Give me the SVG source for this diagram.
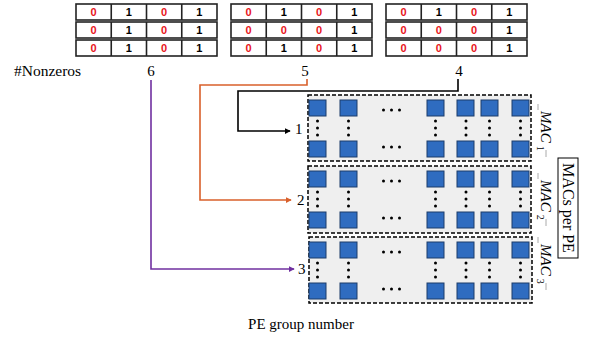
<svg xmlns="http://www.w3.org/2000/svg" width="593" height="339" viewBox="0 0 593 339">
<defs>
<style>
.cell{fill:#fff;stroke:#222;stroke-width:1.6}
.sep{stroke:#222;stroke-width:1.6}
.d{font-family:"Liberation Sans",Arial,sans-serif;font-weight:bold;font-size:11px;text-anchor:middle}
.z{fill:#e8141b}
.o{fill:#000}
.serif{font-family:"Liberation Serif","Times New Roman",serif;fill:#000}
.grp{fill:#efefef;stroke:#000;stroke-width:1.5;stroke-dasharray:4 2}
.sq{fill:#2f6cc0;stroke:#1d3d6b;stroke-width:1}
.dot{fill:#000}
.bar{stroke:#aaa;stroke-width:1}
</style>
<marker id="ak" viewBox="0 0 8 8" refX="7" refY="4" markerWidth="6" markerHeight="6" orient="auto" markerUnits="userSpaceOnUse"><path d="M0,0 L8,4 L0,8 z" fill="#000"/></marker>
<marker id="ao" viewBox="0 0 8 8" refX="7" refY="4" markerWidth="6" markerHeight="6" orient="auto" markerUnits="userSpaceOnUse"><path d="M0,0 L8,4 L0,8 z" fill="#d9602b"/></marker>
<marker id="ap" viewBox="0 0 8 8" refX="7" refY="4" markerWidth="6" markerHeight="6" orient="auto" markerUnits="userSpaceOnUse"><path d="M0,0 L8,4 L0,8 z" fill="#7030a0"/></marker>
<g id="row">
<rect class="cell" x="0" y="0" width="141" height="16"/>
<line class="sep" x1="35.25" y1="0" x2="35.25" y2="16"/>
<line class="sep" x1="70.5" y1="0" x2="70.5" y2="16"/>
<line class="sep" x1="105.75" y1="0" x2="105.75" y2="16"/>
</g>
<g id="peinner">
<rect class="sq" x="309" y="5" width="17" height="16"/>
<rect class="sq" x="340" y="5" width="17" height="16"/>
<rect class="sq" x="427" y="5" width="17" height="16"/>
<rect class="sq" x="457" y="5" width="17" height="16"/>
<rect class="sq" x="481" y="5" width="17" height="16"/>
<rect class="sq" x="512" y="5" width="17" height="16"/>
<rect class="sq" x="309" y="46" width="17" height="16"/>
<rect class="sq" x="340" y="46" width="17" height="16"/>
<rect class="sq" x="427" y="46" width="17" height="16"/>
<rect class="sq" x="457" y="46" width="17" height="16"/>
<rect class="sq" x="481" y="46" width="17" height="16"/>
<rect class="sq" x="512" y="46" width="17" height="16"/>
<circle class="dot" cx="383.5" cy="15" r="1.5"/><circle class="dot" cx="391.5" cy="15" r="1.5"/><circle class="dot" cx="399.5" cy="15" r="1.5"/>
<circle class="dot" cx="383.5" cy="52" r="1.5"/><circle class="dot" cx="391.5" cy="52" r="1.5"/><circle class="dot" cx="399.5" cy="52" r="1.5"/>
<g id="vd"><circle class="dot" cx="317.5" cy="26" r="1.5"/><circle class="dot" cx="317.5" cy="33" r="1.5"/><circle class="dot" cx="317.5" cy="40" r="1.5"/></g>
<use href="#vd" x="31"/>
<use href="#vd" x="118"/>
<use href="#vd" x="148.5"/>
<use href="#vd" x="172"/>
<use href="#vd" x="203"/>
</g>
</defs>

<g id="matrix1">
<use href="#row" x="76" y="4"/><use href="#row" x="76" y="22"/><use href="#row" x="76" y="40"/>
<text class="d" y="16"><tspan class="z" x="93.6">0</tspan><tspan class="o" x="128.9">1</tspan><tspan class="z" x="164.1">0</tspan><tspan class="o" x="199.4">1</tspan></text>
<text class="d" y="34"><tspan class="z" x="93.6">0</tspan><tspan class="o" x="128.9">1</tspan><tspan class="z" x="164.1">0</tspan><tspan class="o" x="199.4">1</tspan></text>
<text class="d" y="52"><tspan class="z" x="93.6">0</tspan><tspan class="o" x="128.9">1</tspan><tspan class="z" x="164.1">0</tspan><tspan class="o" x="199.4">1</tspan></text>
</g>
<g id="matrix2">
<use href="#row" x="231" y="4"/><use href="#row" x="231" y="22"/><use href="#row" x="231" y="40"/>
<text class="d" y="16"><tspan class="z" x="248.6">0</tspan><tspan class="o" x="283.9">1</tspan><tspan class="z" x="319.1">0</tspan><tspan class="o" x="354.4">1</tspan></text>
<text class="d" y="34"><tspan class="z" x="248.6">0</tspan><tspan class="z" x="283.9">0</tspan><tspan class="z" x="319.1">0</tspan><tspan class="o" x="354.4">1</tspan></text>
<text class="d" y="52"><tspan class="z" x="248.6">0</tspan><tspan class="o" x="283.9">1</tspan><tspan class="z" x="319.1">0</tspan><tspan class="o" x="354.4">1</tspan></text>
</g>
<g id="matrix3">
<use href="#row" x="386" y="4"/><use href="#row" x="386" y="22"/><use href="#row" x="386" y="40"/>
<text class="d" y="16"><tspan class="z" x="403.6">0</tspan><tspan class="o" x="438.9">1</tspan><tspan class="z" x="474.1">0</tspan><tspan class="o" x="509.4">1</tspan></text>
<text class="d" y="34"><tspan class="z" x="403.6">0</tspan><tspan class="z" x="438.9">0</tspan><tspan class="z" x="474.1">0</tspan><tspan class="o" x="509.4">1</tspan></text>
<text class="d" y="52"><tspan class="z" x="403.6">0</tspan><tspan class="z" x="438.9">0</tspan><tspan class="z" x="474.1">0</tspan><tspan class="o" x="509.4">1</tspan></text>
</g>

<g id="labels">
<text class="serif" x="14" y="76" font-size="15.5">#Nonzeros</text>
<text class="serif" x="151" y="76" font-size="15" text-anchor="middle">6</text>
<text class="serif" x="305" y="76" font-size="15" text-anchor="middle">5</text>
<text class="serif" x="459" y="76" font-size="15" text-anchor="middle">4</text>
<text class="serif" x="295" y="134" font-size="15">1</text>
<text class="serif" x="297" y="205" font-size="15">2</text>
<text class="serif" x="298" y="274" font-size="15">3</text>
<text class="serif" x="301" y="329" font-size="15" text-anchor="middle">PE group number</text>
</g>

<g id="connectors" fill="none" stroke-width="1.6">
<path d="M458,79 V91 H238 V131 H290" stroke="#000" marker-end="url(#ak)"/>
<path d="M307,79 V85 H200 V200 H291" stroke="#d9602b" marker-end="url(#ao)"/>
<path d="M151,80 V269 H294" stroke="#7030a0" marker-end="url(#ap)"/>
</g>

<g id="pe1">
<rect class="grp" x="308" y="95" width="223" height="66"/>
<use href="#peinner" y="95"/>
</g>
<g id="pe2">
<rect class="grp" x="308" y="166" width="223" height="67"/>
<use href="#peinner" y="166"/>
</g>
<g id="pe3">
<rect class="grp" x="309" y="237" width="223" height="66"/>
<use href="#peinner" y="237"/>
</g>

<g id="mac1">
<line class="bar" x1="538" y1="104" x2="538" y2="110"/>
<text class="serif" font-size="15" transform="translate(541,111) rotate(90)"><tspan font-style="italic">MAC</tspan><tspan font-size="10" dx="3" dy="4">1</tspan></text>
<line class="bar" x1="546" y1="150" x2="546" y2="157"/>
</g>
<g id="mac2">
<line class="bar" x1="538" y1="173" x2="538" y2="179"/>
<text class="serif" font-size="15" transform="translate(541,180) rotate(90)"><tspan font-style="italic">MAC</tspan><tspan font-size="10" dx="3" dy="4">2</tspan></text>
<line class="bar" x1="546" y1="219" x2="546" y2="226"/>
</g>
<g id="mac3">
<line class="bar" x1="538" y1="237" x2="538" y2="243"/>
<text class="serif" font-size="15" transform="translate(541,244) rotate(90)"><tspan font-style="italic">MAC</tspan><tspan font-size="10" dx="3" dy="4">3</tspan></text>
<line class="bar" x1="546" y1="283" x2="546" y2="290"/>
</g>

<g id="macs-per-pe">
<rect x="558" y="158" width="20" height="100" fill="#fff" stroke="#000" stroke-width="1"/>
<text class="serif" font-size="16" text-anchor="middle" transform="translate(563,208) rotate(90)">MACs per PE</text>
</g>
</svg>
